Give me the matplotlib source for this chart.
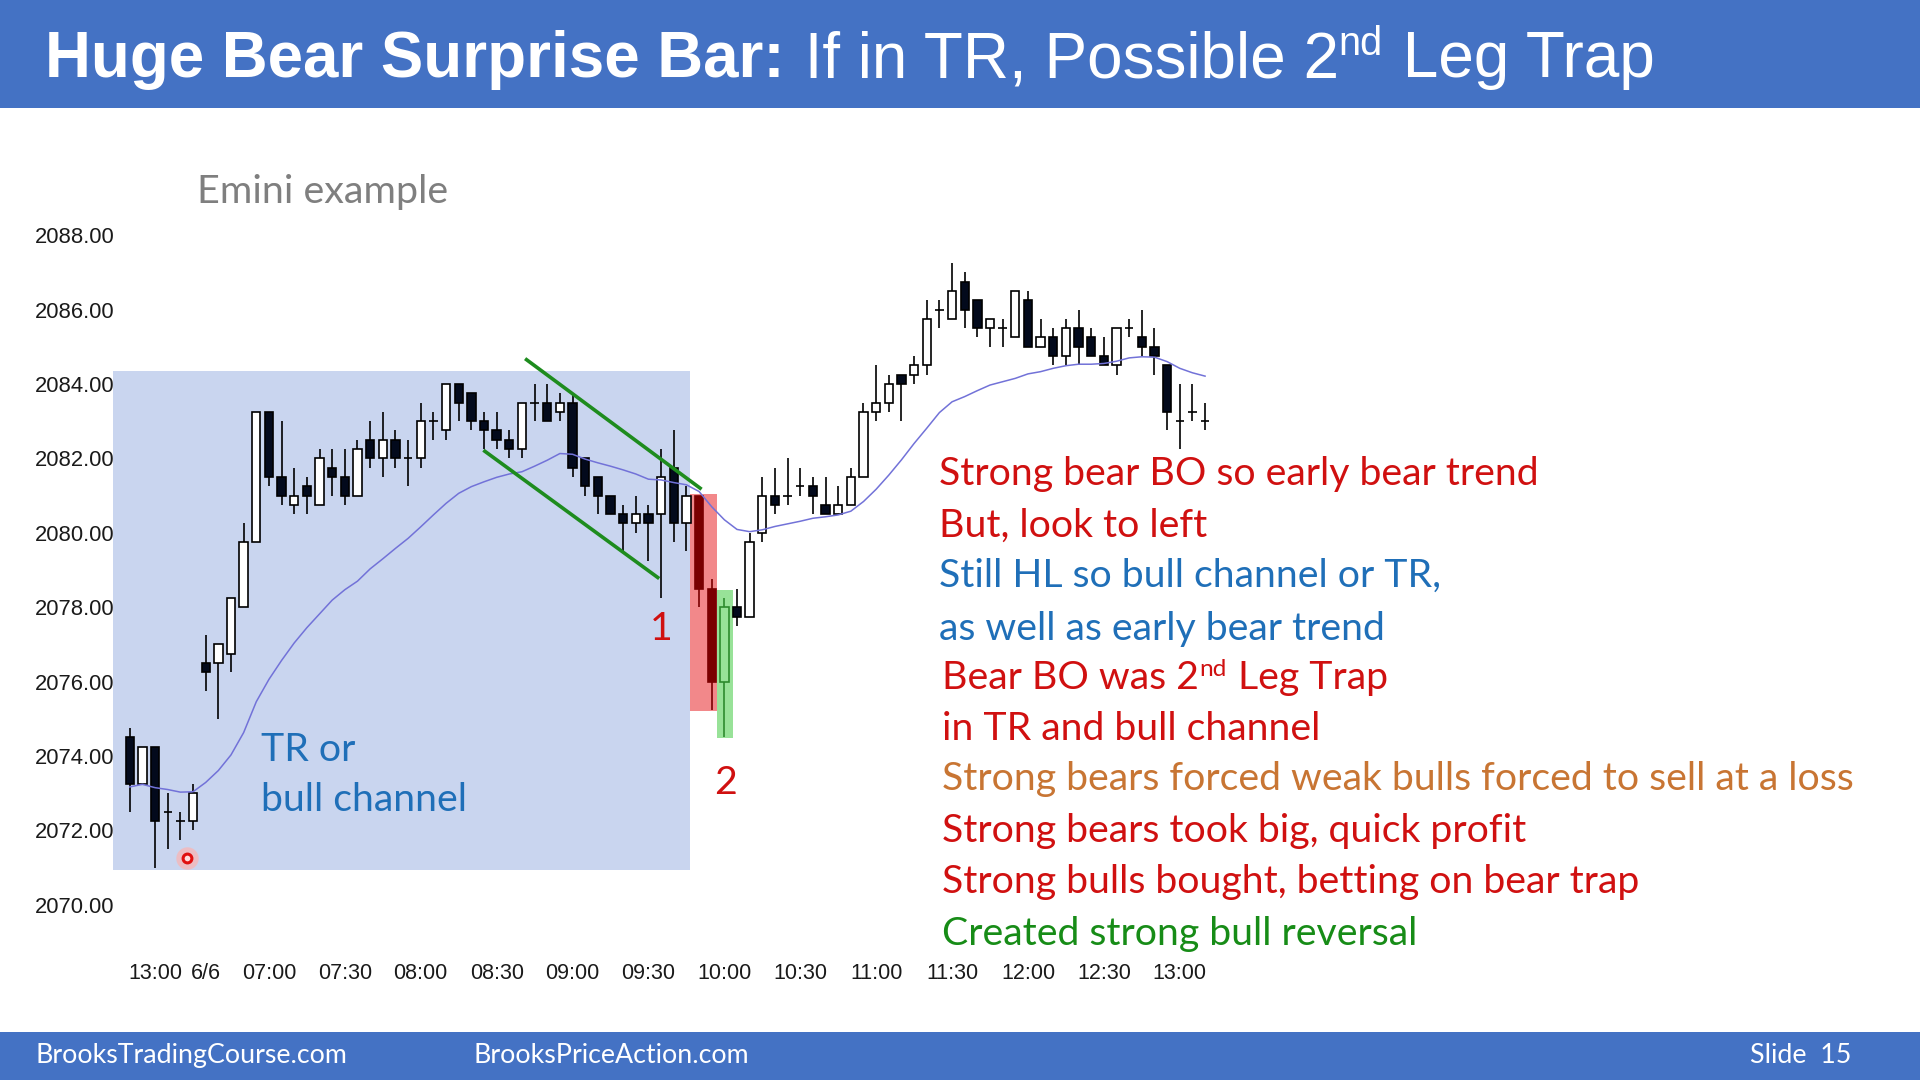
import numpy as np
import matplotlib.pyplot as plt
from matplotlib.patches import Rectangle
from matplotlib.transforms import IdentityTransform

# 5-min bars, prior day close then 6/6 session
opens = [2074.5, 2073.25, 2074.25, 2072.5, 2072.25, 2072.25, 2076.5, 2076.5, 2076.75, 2078.0,
         2079.75, 2083.25, 2081.5, 2080.75, 2081.25, 2080.75, 2081.75, 2081.5, 2081.0, 2082.5,
         2082.0, 2082.5, 2082.0, 2082.0, 2083.0, 2082.75, 2084.0, 2083.75, 2083.0, 2082.75,
         2082.5, 2082.25, 2083.5, 2083.5, 2083.25, 2083.5, 2082.0, 2081.5, 2081.0, 2080.5,
         2080.25, 2080.5, 2080.5, 2081.75, 2080.25, 2081.0, 2078.5, 2076.0, 2078.0, 2077.75,
         2080.0, 2081.0, 2081.0, 2081.25, 2081.25, 2080.75, 2080.5, 2080.75, 2081.5, 2083.25,
         2083.5, 2084.25, 2084.25, 2084.5, 2086.0, 2085.75, 2086.75, 2086.25, 2085.5, 2085.5,
         2085.25, 2086.25, 2085.0, 2085.25, 2084.75, 2085.5, 2085.25, 2084.75, 2084.5, 2085.5,
         2085.25, 2085.0, 2084.5, 2083.0, 2083.25, 2083.0]
highs = [2074.75, 2074.25, 2074.25, 2073.0, 2072.5, 2073.25, 2077.25, 2077.0, 2078.25, 2080.25,
         2083.25, 2083.25, 2083.0, 2081.75, 2081.5, 2082.25, 2082.25, 2082.25, 2082.5, 2083.0,
         2083.25, 2082.75, 2082.5, 2083.5, 2083.25, 2084.0, 2084.0, 2083.75, 2083.25, 2083.25,
         2082.75, 2083.5, 2084.0, 2084.0, 2083.75, 2083.75, 2082.0, 2081.5, 2081.0, 2080.75,
         2081.0, 2080.75, 2082.25, 2082.75, 2081.25, 2081.0, 2078.75, 2078.25, 2078.5, 2080.0,
         2081.5, 2081.75, 2082.0, 2081.75, 2081.5, 2081.5, 2081.25, 2081.75, 2083.5, 2084.5,
         2084.25, 2084.25, 2084.75, 2086.25, 2086.25, 2087.25, 2087.0, 2086.25, 2085.75, 2085.75,
         2086.5, 2086.5, 2085.75, 2085.5, 2085.75, 2086.0, 2085.5, 2085.25, 2085.5, 2085.75,
         2086.0, 2085.5, 2084.5, 2084.0, 2084.0, 2083.5]
lows = [2072.5, 2073.25, 2071.0, 2071.5, 2071.75, 2072.0, 2075.75, 2075.0, 2076.25, 2078.0,
        2079.75, 2081.25, 2080.75, 2080.5, 2080.5, 2080.75, 2081.0, 2080.75, 2081.0, 2081.75,
        2081.5, 2081.75, 2081.25, 2081.75, 2082.5, 2082.5, 2083.0, 2082.75, 2082.25, 2082.25,
        2082.0, 2082.0, 2083.0, 2083.0, 2083.0, 2081.5, 2081.0, 2080.5, 2080.5, 2079.5,
        2080.0, 2079.25, 2078.25, 2079.75, 2079.5, 2078.0, 2075.25, 2074.5, 2077.5, 2077.75,
        2079.75, 2080.5, 2080.75, 2081.0, 2080.5, 2080.5, 2080.5, 2080.75, 2081.5, 2083.0,
        2083.25, 2083.0, 2084.0, 2084.25, 2085.5, 2085.75, 2085.5, 2085.25, 2085.0, 2085.0,
        2085.25, 2085.0, 2085.0, 2084.5, 2084.5, 2084.5, 2084.75, 2084.5, 2084.25, 2085.25,
        2084.75, 2084.25, 2082.75, 2082.25, 2083.0, 2082.75]
closes = [2073.25, 2074.25, 2072.25, 2072.5, 2072.25, 2073.0, 2076.25, 2077.0, 2078.25, 2079.75,
          2083.25, 2081.5, 2081.0, 2081.0, 2081.0, 2082.0, 2081.5, 2081.0, 2082.25, 2082.0,
          2082.5, 2082.0, 2082.0, 2083.0, 2083.0, 2084.0, 2083.5, 2083.0, 2082.75, 2082.5,
          2082.25, 2083.5, 2083.5, 2083.0, 2083.5, 2081.75, 2081.25, 2081.0, 2080.5, 2080.25,
          2080.5, 2080.25, 2081.5, 2080.25, 2081.0, 2078.5, 2076.0, 2078.0, 2077.75, 2079.75,
          2081.0, 2080.75, 2081.0, 2081.25, 2081.0, 2080.5, 2080.75, 2081.5, 2083.25, 2083.5,
          2084.0, 2084.0, 2084.5, 2085.75, 2086.0, 2086.5, 2086.0, 2085.5, 2085.75, 2085.5,
          2086.5, 2085.0, 2085.25, 2084.75, 2085.5, 2085.0, 2084.75, 2084.5, 2085.5, 2085.5,
          2085.0, 2084.75, 2083.25, 2083.0, 2083.25, 2083.0]
ema = [2073.17, 2073.24, 2073.15, 2073.1, 2073.03, 2073.04, 2073.29, 2073.61, 2074.03, 2074.63,
       2075.46, 2076.06, 2076.57, 2077.04, 2077.45, 2077.82, 2078.19, 2078.47, 2078.7, 2079.03,
       2079.3, 2079.58, 2079.85, 2080.16, 2080.48, 2080.79, 2081.06, 2081.24, 2081.37, 2081.49,
       2081.58, 2081.64, 2081.79, 2081.95, 2082.13, 2082.11, 2081.98, 2081.88, 2081.79, 2081.69,
       2081.58, 2081.44, 2081.42, 2081.35, 2081.29, 2081.11, 2080.7, 2080.35, 2080.09, 2080.03,
       2080.08, 2080.17, 2080.24, 2080.31, 2080.39, 2080.43, 2080.48, 2080.58, 2080.84, 2081.17,
       2081.55, 2081.96, 2082.4, 2082.81, 2083.23, 2083.52, 2083.66, 2083.82, 2083.97, 2084.06,
       2084.15, 2084.27, 2084.33, 2084.42, 2084.49, 2084.53, 2084.53, 2084.55, 2084.61, 2084.7,
       2084.73, 2084.72, 2084.6, 2084.42, 2084.3, 2084.21]

tick_bars = [2, 6, 11, 17, 23, 29, 35, 41, 47, 53, 59, 65, 71, 77, 83]
tick_labels = ['13:00', '6/6', '07:00', '07:30', '08:00', '08:30', '09:00', '09:30',
               '10:00', '10:30', '11:00', '11:30', '12:00', '12:30', '13:00']
price_ticks = [2070, 2072, 2074, 2076, 2078, 2080, 2082, 2084, 2086, 2088]

RED = '#d01010'
BLUE = '#1f6fb8'
ORANGE = '#c87533'
GREEN = '#178c17'
notes = ['Strong bear BO so early bear trend', 'But, look to left',
         'Still HL so bull channel or TR,', 'as well as early bear trend',
         'Bear BO was 2|nd| Leg Trap', 'in TR and bull channel',
         'Strong bears forced weak bulls forced to sell at a loss',
         'Strong bears took big, quick profit', 'Strong bulls bought, betting on bear trap',
         'Created strong bull reversal']
note_colors = [RED, RED, BLUE, BLUE, RED, RED, ORANGE, RED, RED, GREEN]

fig = plt.figure(figsize=(19.2, 10.8), dpi=100)
fig.patch.set_facecolor('white')
ax = fig.add_axes([0.05771, 0.14492, 0.58969, 0.67185])
ax.set_xlim(-1.5, 88)
ax.set_ylim(2069.5, 2089)
ax.patch.set_alpha(0)
for s in ax.spines.values():
    s.set_visible(False)

# shaded zones
ax.add_patch(Rectangle((-1.35, 2070.95), 45.6, 13.4, color='#c9d5ef', lw=0, zorder=0))
ax.add_patch(Rectangle((44.3, 2075.22), 2.1, 5.82, color='#f2888a', lw=0, zorder=1))
ax.add_patch(Rectangle((46.4, 2074.48), 1.25, 3.98, color='#98e298', lw=0, zorder=1))

o = np.array(opens); h = np.array(highs); l = np.array(lows); c = np.array(closes)
x = np.arange(len(o))
face = np.where(c < o, '#030a1c', 'white').astype(object)
edge = np.array(['black'] * len(o), dtype=object)
face[45] = face[46] = edge[45] = edge[46] = '#7a0000'
face[47] = '#98e298'; edge[47] = '#2e8b2e'

ax.vlines(x, l, h, colors=list(edge), lw=1.2, zorder=3)
ax.bar(x, np.abs(c - o), bottom=np.minimum(o, c), width=0.66, color=list(face),
       edgecolor=list(edge), linewidth=1.2, zorder=4)
ax.plot(x, ema, color='#7272d8', lw=1.1, zorder=5)

# channel lines
ax.plot([31.25, 45.2], [2084.68, 2081.17], color='#1e8c1e', lw=2.6, zorder=6,
        solid_capstyle='butt')
ax.plot([27.95, 41.85], [2082.22, 2078.77], color='#1e8c1e', lw=2.6, zorder=6,
        solid_capstyle='butt')

# cursor dot
ax.scatter([4.55], [2071.25], s=260, color='#f6b8b8', alpha=0.8, lw=0, zorder=7)
ax.scatter([4.55], [2071.25], s=40, facecolor='#ffdddd', edgecolor='#e01010', lw=2.2, zorder=8)

ax.set_xticks(tick_bars)
ax.set_xticklabels(tick_labels, family='Liberation Sans', fontsize=15.5, color='#1a1a1a')
ax.set_yticks(price_ticks)
ax.set_yticklabels([f'{v:.2f}' for v in price_ticks], family='Liberation Sans',
                   fontsize=15.8, color='#1a1a1a')
ax.tick_params(axis='x', length=0, pad=28.5)
ax.tick_params(axis='y', length=0, pad=-2.5)

# bands
fig.add_artist(Rectangle((0, 1 - 108 / 1080), 1, 108 / 1080, transform=fig.transFigure,
                         color='#4472c4', lw=0, zorder=0))
fig.add_artist(Rectangle((0, 0), 1, 48 / 1080, transform=fig.transFigure,
                         color='#4472c4', lw=0, zorder=0))

renderer = fig.canvas.get_renderer()
PX = IdentityTransform()


def fit(t, target):
    w = t.get_window_extent(renderer).width
    t.set_fontsize(t.get_fontsize() * target / w)
    return t.get_fontsize()


def put_runs(x0, y_top, text, size, color, family, weight='normal'):
    # text with |sup| parts, y_top measured from the top of the picture
    y = 1080 - y_top
    pos = x0
    for i, part in enumerate(text.split('|')):
        if not part:
            continue
        sup = i % 2 == 1
        fs = size * 0.62 if sup else size
        dy = size * 100 / 72 * 0.34 if sup else 0
        t = fig.text(pos, y + dy, part, transform=PX, fontsize=fs, color=color,
                     family=family, weight=weight, va='baseline', ha='left')
        pos = t.get_window_extent(renderer).x1 + (2 if sup else 0)
    return pos


# title
probe = fig.text(45, 1080 - 77, 'Huge Bear Surprise Bar:', transform=PX, fontsize=50,
                 family='Liberation Sans', weight='bold', color='white', va='baseline')
tsize = fit(probe, 739)
xe = probe.get_window_extent(renderer).x1
put_runs(xe + 2, 77, ' If in TR, Possible 2|nd| Leg Trap', tsize * 1.005, 'white',
         'Liberation Sans')

# notes
probe = fig.text(0, 0, notes[6], transform=PX, fontsize=30, family='Lato')
nsize = fit(probe, 912)
probe.remove()
note_x = [939, 939, 939, 939, 942, 942, 942, 942, 942, 942]
note_y = [485, 537, 587, 640, 689, 740, 790, 842, 893, 945]
for s, col, nx, ny in zip(notes, note_colors, note_x, note_y):
    put_runs(nx, ny, s, nsize, col, 'Lato')

put_runs(261, 761, 'TR or', nsize, BLUE, 'Lato')
put_runs(261, 811, 'bull channel', nsize, BLUE, 'Lato')
fig.text(661, 1080 - 640, '1', transform=PX, fontsize=nsize, color=RED, family='Lato',
         ha='center', va='baseline')
fig.text(726, 1080 - 794, '2', transform=PX, fontsize=nsize, color=RED, family='Lato',
         ha='center', va='baseline')

em = fig.text(197, 1080 - 203, 'Emini example', transform=PX, fontsize=30, family='Lato',
              color='#7f7f7f', va='baseline')
fit(em, 251)

# footer
ft = fig.text(36, 1080 - 1063, 'BrooksTradingCourse.com', transform=PX, fontsize=18,
              family='Lato', color='white', va='baseline')
fsize = fit(ft, 311)
fig.text(474, 1080 - 1063, 'BrooksPriceAction.com', transform=PX, fontsize=fsize,
         family='Lato', color='white', va='baseline')
fig.text(1851, 1080 - 1063, 'Slide  15', transform=PX, fontsize=fsize,
         family='Lato', color='white', va='baseline', ha='right')

fig.savefig('out.png', dpi=100)
